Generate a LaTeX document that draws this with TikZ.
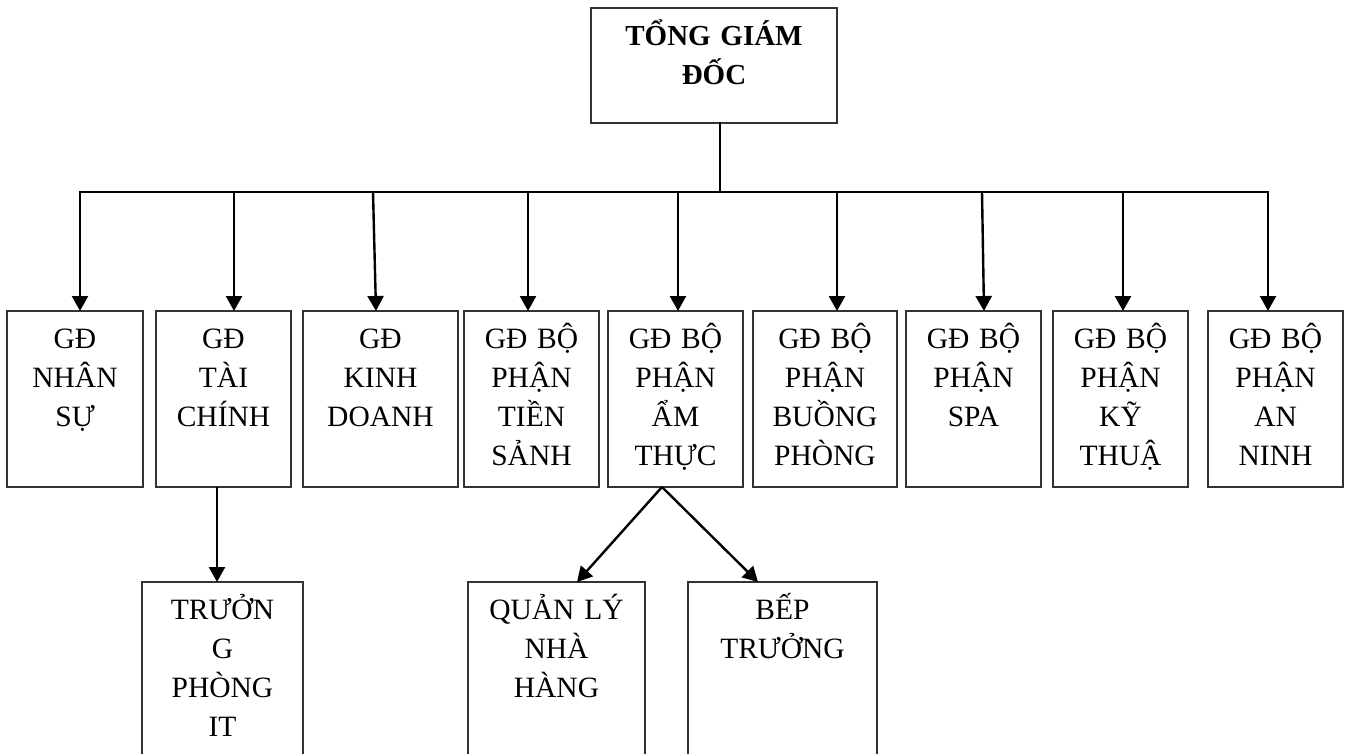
\documentclass[tikz,border=0pt]{standalone}
\usepackage{fontspec}
\setmainfont{Liberation Serif}
\usetikzlibrary{arrows.meta}

\tikzset{
  unitbox/.style={draw=black!80, line width=1.2pt, rectangle, inner sep=0pt, outer sep=0pt},
  unittext/.style={anchor=base, align=center, inner sep=0pt,
    font=\fontsize{29.5}{39}\selectfont},
  headtext/.style={unittext, font=\fontsize{29}{39.5}\selectfont\bfseries},
  bus/.style={line width=2pt, line cap=rect},
  arr/.style={line width=2.4pt, -{Triangle[width=16pt,length=15pt]}},
}

% \orgunit[style]{name}{x1}{y1}{x2}{y2}{text}: a box with its text set from the top
\newcommand\orgunit[7][unittext]{%
  \node[unitbox, minimum width={(#5-#3)*1pt}, minimum height={(#6-#4)*1pt}]
    (#2) at ({(#3+#5)/2},{(#4+#6)/2}) {};
  \node[#1, text width={(#5-#3-4)*1pt}] (#2-t) at ([yshift=-37pt]#2.north) {#7};
}

\begin{document}
\begin{tikzpicture}[x=1pt,y=-1pt]
\path[use as bounding box, clip] (0,0) rectangle (1349,753);
\fill[white] (0,0) rectangle (1349,753);

% head of the company
\orgunit[headtext]{top}{591}{8}{837}{123}{TỔNG GIÁM\\ĐỐC}

% directors
\orgunit{g1}{7}{311}{143}{487}{GĐ\\NHÂN\\SỰ}
\orgunit{g2}{156}{311}{291}{487}{GĐ\\TÀI\\CHÍNH}
\orgunit{g3}{303}{311}{458}{487}{GĐ\\KINH\\DOANH}
\orgunit{g4}{464}{311}{599}{487}{GĐ BỘ\\PHẬN\\TIỀN\\SẢNH}
\orgunit{g5}{608}{311}{743}{487}{GĐ BỘ\\PHẬN\\ẨM\\THỰC}
\orgunit{g6}{753}{311}{897}{487}{GĐ BỘ\\PHẬN\\BUỒNG\\PHÒNG}
\orgunit{g7}{906}{311}{1041}{487}{GĐ BỘ\\PHẬN\\SPA}
\orgunit{g8}{1053}{311}{1188}{487}{GĐ BỘ\\PHẬN\\KỸ\\THUẬ}
\orgunit{g9}{1208}{311}{1343}{487}{GĐ BỘ\\PHẬN\\AN\\NINH}

% second level
\orgunit{it}{142}{582}{303}{790}{TRƯỞN\\G\\PHÒNG\\IT}
\orgunit{ql}{468}{582}{645}{790}{QUẢN LÝ\\NHÀ\\HÀNG}
\orgunit{bt}{688}{582}{877}{790}{BẾP\\TRƯỞNG}

% distribution bus
\coordinate (hub) at (720,192);
\coordinate (b1) at (80,192);
\coordinate (b2) at (234,192);
\coordinate (b3) at (373,192);
\coordinate (b4) at (528,192);
\coordinate (b5) at (678,192);
\coordinate (b6) at (837,192);
\coordinate (b7) at (982,192);
\coordinate (b8) at (1123,192);
\coordinate (b9) at (1268,192);

\draw[bus] (hub |- top.south) -- (hub);
\draw[bus] (b1) -- (b9);

\draw[arr] (b1) -- (b1 |- g1.north);
\draw[arr] (b2) -- (b2 |- g2.north);
\draw[arr] (b3) -- ([xshift=3pt]b3 |- g3.north);
\draw[arr] (b4) -- (b4 |- g4.north);
\draw[arr] (b5) -- (b5 |- g5.north);
\draw[arr] (b6) -- (b6 |- g6.north);
\draw[arr] (b7) -- ([xshift=2pt]b7 |- g7.north);
\draw[arr] (b8) -- (b8 |- g8.north);
\draw[arr] (b9) -- (b9 |- g9.north);

% branches below
\coordinate (itx) at (217,0);
\coordinate (fork) at (662,487);
\coordinate (qlx) at (577,0);
\coordinate (btx) at (758,0);
\draw[arr] (itx |- g2.south) -- (itx |- it.north);
\draw[arr] (fork) -- (qlx |- ql.north);
\draw[arr] (fork) -- (btx |- bt.north);
\end{tikzpicture}
\end{document}
